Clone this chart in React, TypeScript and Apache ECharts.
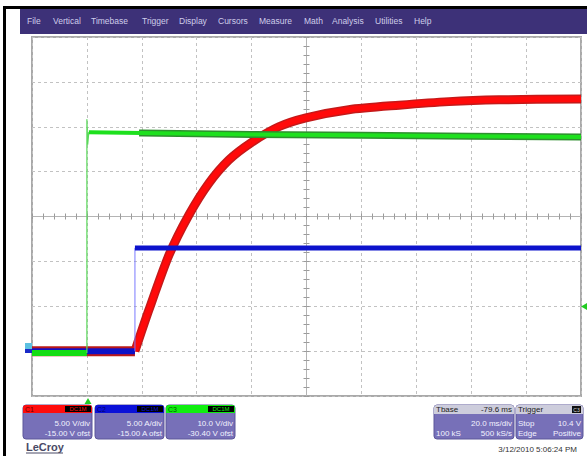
import React, { useEffect, useRef } from "react";
import * as echarts from "echarts";

// Menu bar
const menuItems = ["File", "Vertical", "Timebase", "Trigger", "Display", "Cursors", "Measure", "Math", "Analysis", "Utilities", "Help"];
const menuX = [27, 53, 91, 142, 179, 218, 259, 304, 332, 375, 414];

// Channel settings (scale per division, offset)
const c1Scale = 5, c1Offset = -15;     // V/div, V
const c2Scale = 5, c2Offset = -15;     // A/div, A
const c3Scale = 10, c3Offset = -30.4;  // V/div, V

// C1 (red) – voltage, time in ms (trigger at 0)
const c1LowTime = [-20, 17.5];
const c1LowVolt = [0, 0];
const c1RiseTime = [17.5, 22.6, 29.9, 37.2, 44.4, 51.7, 59.7, 69.9, 79.8, 95.4, 113.7, 131.9, 150.1, 180];
const c1RiseVolt = [0, 4.6, 10.7, 15.2, 18.7, 21.3, 23.2, 25.0, 26.0, 26.9, 27.4, 27.8, 28.0, 28.1];

// C2 (blue) – current
const c2LowTime = [-20, 17.5];
const c2LowAmp = [0, 0];
const c2EdgeTime = [17.5, 17.5];
const c2EdgeAmp = [0, 11.5];
const c2HighTime = [17.5, 60, 120, 180];
const c2HighAmp = [11.5, 11.5, 11.5, 11.5];

// C3 (green) – voltage
const c3LowTime = [-20, 0];
const c3LowVolt = [0, 0];
const c3EdgeTime = [0, 0, 0.3, 0.7];
const c3EdgeVolt = [0, 52, 46.5, 49.2];
const c3HighTime = [0.7, 20, 60, 100, 140, 180];
const c3HighVolt = [49.2, 49.0, 48.7, 48.5, 48.3, 48.1];
const c3NoisyStart = 19;

// Info boxes
const chanBoxes = [
  { name: "C1", color: "#ff0c0c", dark: "#6a0000", x: 23, lines: ["5.00 V/div", "-15.00 V ofst"] },
  { name: "C2", color: "#0a10d8", dark: "#00006a", x: 95, lines: ["5.00 A/div", "-15.00 A ofst"] },
  { name: "C3", color: "#10ee10", dark: "#005a00", x: 166, lines: ["10.0 V/div", "-30.40 V ofst"] },
];
const tbaseHeader = ["Tbase", "-79.6 ms"];
const tbaseRows = [["", "20.0 ms/div"], ["100 kS", "500 kS/s"]];
const trigRows = [["Stop", "10.4 V"], ["Edge", "Positive"]];
const dateText = "3/12/2010 5:06:24 PM";

const FONT = "Liberation Sans, Arial, sans-serif";

function pts(ts: number[], vs: number[], scale: number, offset: number) {
  return ts.map((t, i) => [t, (vs[i] + offset) / scale]);
}

function txt(x: number, y: number, text: string, size: number, fill: string, align = "left", weight = "normal") {
  return {
    type: "text",
    x,
    y,
    silent: true,
    z: 100,
    style: {
      text,
      fill,
      font: `${weight} ${size}px ${FONT}`,
      textAlign: align,
      align,
      textVerticalAlign: "middle",
      verticalAlign: "middle",
    },
  };
}

function rect(x: number, y: number, w: number, h: number, fill: string, r: any = 0, stroke?: string) {
  return {
    type: "rect",
    silent: true,
    z: 90,
    shape: { x, y, width: w, height: h, r },
    style: stroke ? { fill, stroke, lineWidth: 1 } : { fill },
  };
}

export default function App() {
  const ref = useRef<HTMLDivElement>(null);

  useEffect(() => {
    if (!ref.current) return;
    const chart = echarts.init(ref.current, undefined, { renderer: "svg" });

    const graphics: any[] = [];
    // frame
    graphics.push(rect(3, 6, 584, 3, "#000"));
    graphics.push(rect(3, 6, 3, 450, "#000"));
    graphics.push(rect(20, 9, 567, 25, "#3d3178"));
    menuItems.forEach((m, i) => graphics.push(txt(menuX[i], 21, m, 8.5, "#cfcdea")));

    // channel boxes
    chanBoxes.forEach((b) => {
      graphics.push(rect(b.x, 405, 69, 34, "#7770b8", 3, "#5c5699"));
      graphics.push(rect(b.x, 405, 69, 8, b.color, [3, 3, 0, 0]));
      graphics.push(txt(b.x + 2, 409, b.name, 7, b.dark));
      graphics.push(rect(b.x + 42, 406, 26, 6, "#000"));
      graphics.push(txt(b.x + 55, 409, "DC1M", 6, b.color, "center"));
      graphics.push(txt(b.x + 67, 423, b.lines[0], 8, "#f2f2ff", "right"));
      graphics.push(txt(b.x + 67, 433, b.lines[1], 8, "#f2f2ff", "right"));
    });

    // timebase box
    graphics.push(rect(434, 405, 80, 34, "#7770b8", 3, "#5c5699"));
    graphics.push(rect(434, 405, 80, 9, "#cdcddc", [3, 3, 0, 0]));
    graphics.push(txt(436, 409.5, tbaseHeader[0], 8, "#222"));
    graphics.push(txt(512, 409.5, tbaseHeader[1], 8, "#222", "right"));
    tbaseRows.forEach((r, i) => {
      if (r[0]) graphics.push(txt(436, 423 + i * 10, r[0], 8, "#f2f2ff"));
      graphics.push(txt(512, 423 + i * 10, r[1], 8, "#f2f2ff", "right"));
    });
    // trigger box
    graphics.push(rect(516, 405, 67, 34, "#7770b8", 3, "#5c5699"));
    graphics.push(rect(516, 405, 67, 9, "#cdcddc", [3, 3, 0, 0]));
    graphics.push(txt(518, 409.5, "Trigger", 8, "#222"));
    graphics.push(rect(572, 406, 9, 7, "#111"));
    graphics.push(txt(576.5, 409.5, "C3", 5, "#ddd", "center"));
    trigRows.forEach((r, i) => {
      graphics.push(txt(518, 423 + i * 10, r[0], 8, "#f2f2ff"));
      graphics.push(txt(581, 423 + i * 10, r[1], 8, "#f2f2ff", "right"));
    });
    graphics.push(txt(577, 449, dateText, 8, "#333", "right"));

    // LeCroy logo
    graphics.push(txt(26, 447, "LeCroy", 11, "#4a4a66", "left", "bold"));
    graphics.push({ type: "line", silent: true, z: 100, shape: { x1: 26, y1: 453, x2: 63, y2: 453 }, style: { stroke: "#4a4a66", lineWidth: 1 } });

    // markers
    graphics.push(rect(25, 343, 7, 6, "#5cc0e0"));
    graphics.push(rect(25, 349, 7, 4, "#1a2ac8"));
    graphics.push({ type: "polygon", silent: true, z: 100, shape: { points: [[88, 398], [84.5, 404], [91.5, 404]] }, style: { fill: "#22cc22" } });
    graphics.push({ type: "polygon", silent: true, z: 100, shape: { points: [[581, 306.5], [587, 303], [587, 310]] }, style: { fill: "#22cc22" } });

    const split = { show: true, lineStyle: { color: "#c2c2c2", type: [3, 3], width: 1 } };
    const centerAxisX = (inside: boolean) => ({
      type: "value", gridIndex: 0, min: -5, max: 5, interval: 1,
      axisLine: { show: true, onZero: true, onZeroAxisIndex: 1, lineStyle: { color: "#b4b4b4", width: 1 } },
      axisTick: { show: true, inside, length: 3, lineStyle: { color: "#9a9a9a" } },
      minorTick: { show: true, splitNumber: 5, length: 3, lineStyle: { color: "#9a9a9a" } },
      axisLabel: { show: false }, splitLine: { show: false },
    });
    const centerAxisY = (inside: boolean) => ({
      type: "value", gridIndex: 0, min: -4, max: 4, interval: 1,
      axisLine: { show: true, onZero: true, onZeroAxisIndex: 1, lineStyle: { color: "#b4b4b4", width: 1 } },
      axisTick: { show: true, inside, length: 3, lineStyle: { color: "#9a9a9a" } },
      minorTick: { show: true, splitNumber: 5, length: 3, lineStyle: { color: "#9a9a9a" } },
      axisLabel: { show: false }, splitLine: { show: false },
    });

    const line = (data: any[], color: string, width: number, z: number, extra: any = {}) => ({
      type: "line", data, showSymbol: false, symbol: "none", silent: true, z,
      lineStyle: { color, width, cap: "butt", join: "round" },
      ...extra,
    });

    const redLow = pts(c1LowTime, c1LowVolt, c1Scale, c1Offset);
    const redRise = pts(c1RiseTime, c1RiseVolt, c1Scale, c1Offset);
    const c3High = pts(c3HighTime, c3HighVolt, c3Scale, c3Offset);
    const c3Noisy = c3High.filter((p) => p[0] >= c3NoisyStart);
    c3Noisy.unshift([c3NoisyStart, (c3HighVolt[1] + c3Offset) / c3Scale]);

    chart.setOption({
      animation: false,
      backgroundColor: "#ffffff",
      grid: { left: 32, top: 37, width: 549, height: 359, show: true, borderColor: "#a9a9a9", borderWidth: 2, backgroundColor: "#ffffff" },
      xAxis: [
        { type: "value", min: -20, max: 180, interval: 20, axisLine: { show: false }, axisTick: { show: false }, axisLabel: { show: false }, splitLine: split },
        centerAxisX(false),
        centerAxisX(true),
      ],
      yAxis: [
        { type: "value", min: -4, max: 4, interval: 1, axisLine: { show: false }, axisTick: { show: false }, axisLabel: { show: false }, splitLine: split },
        centerAxisY(false),
        centerAxisY(true),
      ],
      series: [
        line(redLow, "#b81a1a", 10, 2),
        line(redLow, "#ff0a0a", 6, 3),
        line(redRise, "#c41a1a", 9, 2, { smooth: 0.25 }),
        line(redRise, "#ff0a0a", 6, 3, { smooth: 0.25 }),
        line(pts(c2LowTime, c2LowAmp, c2Scale, c2Offset), "#0c12c8", 6, 4),
        line(pts(c2EdgeTime, c2EdgeAmp, c2Scale, c2Offset), "#7a7aff", 1, 4),
        line(pts(c2HighTime, c2HighAmp, c2Scale, c2Offset), "#0c12cc", 5, 4),
        line(pts(c3LowTime, c3LowVolt, c3Scale, c3Offset), "#14dd14", 6, 5),
        line(pts(c3EdgeTime, c3EdgeVolt, c3Scale, c3Offset), "#5ad85a", 1.2, 5),
        line(c3Noisy, "#2f8f2f", 7, 5),
        line(c3High, "#1ee01e", 4, 6),
      ],
      graphic: graphics,
    });

    return () => chart.dispose();
  }, []);

  return <div ref={ref} style={{ position: "fixed", left: 0, top: 0, width: 587, height: 456, background: "#fff" }} />;
}
